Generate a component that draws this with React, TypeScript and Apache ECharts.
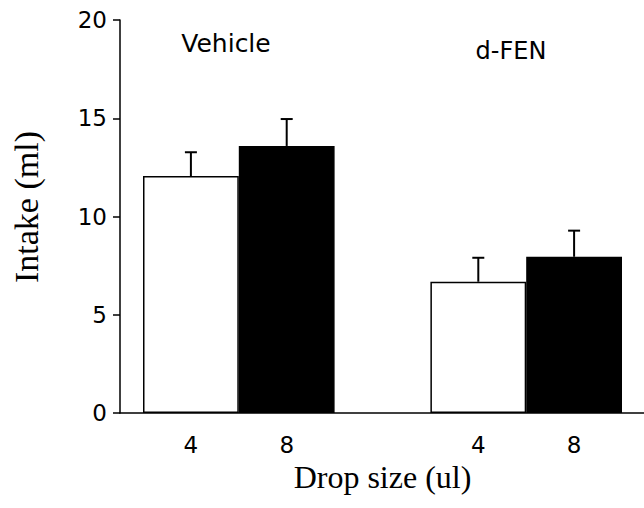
import React, { useEffect, useRef } from "react";
import * as echarts from "echarts";

const groups = ["Vehicle", "d-FEN"];
const dropSizes = ["4", "8"];
const vehicleMeans = [12.06, 13.59];
const vehicleSem = [1.21, 1.37];
const dfenMeans = [6.68, 7.95];
const dfenSem = [1.22, 1.33];
const yTicks = [0, 5, 10, 15, 20];

const SANS = "DejaVu Sans";
const SERIF = "Liberation Serif";

export default function App() {
  const ref = useRef<HTMLDivElement>(null);
  useEffect(() => {
    if (!ref.current) return;
    const chart = echarts.init(ref.current, undefined, { renderer: "svg" });

    // five slots: group 1 (4, 8), empty gap, group 2 (4, 8)
    const categories = [...dropSizes, "", ...dropSizes];
    const fills = ["#ffffff", "#000000"];
    const barData: any[] = [];
    const errData: any[] = [];
    const allMeans = [vehicleMeans, dfenMeans];
    const allSem = [vehicleSem, dfenSem];
    let idx = 0;
    allMeans.forEach((means, g) => {
      means.forEach((m, d) => {
        barData.push({
          value: m,
          itemStyle: { color: fills[d], borderColor: "#000", borderWidth: 1.5 },
        });
        errData.push([idx, m, allSem[g][d]]);
        idx++;
      });
      if (g === 0) {
        barData.push("-");
        idx++;
      }
    });

    chart.setOption({
      animation: false,
      grid: [
        { left: 143, right: 22, top: 20, bottom: 95 },
        { left: 120, right: 0, top: 20, bottom: 95 },
      ],
      xAxis: [
        {
          type: "category",
          gridIndex: 0,
          data: categories,
          axisLine: { show: false },
          axisTick: { show: false },
          axisLabel: {
            color: "#000",
            fontFamily: SANS,
            fontSize: 23,
            margin: 20,
          },
          name: "Drop size (ul)",
          nameLocation: "middle",
          nameGap: 38,
          nameTextStyle: { color: "#000", fontFamily: SERIF, fontSize: 32 },
        },
        {
          type: "value",
          gridIndex: 1,
          min: 0,
          max: 1,
          axisLine: { show: true, lineStyle: { color: "#000", width: 1.5 } },
          axisTick: { show: false },
          axisLabel: { show: false },
          splitLine: { show: false },
        },
      ],
      yAxis: [
        {
          type: "value",
          gridIndex: 0,
          min: 0,
          max: 20,
          interval: 5,
          show: false,
        },
        {
          type: "value",
          gridIndex: 1,
          min: yTicks[0],
          max: yTicks[yTicks.length - 1],
          interval: 5,
          axisLine: { show: true, lineStyle: { color: "#000", width: 1.5 } },
          axisTick: { show: true, length: 7, lineStyle: { color: "#000", width: 1.5 } },
          axisLabel: {
            color: "#000",
            fontFamily: SANS,
            fontSize: 23,
            margin: 13,
          },
          splitLine: { show: false },
        },
      ],
      series: [
        {
          type: "bar",
          name: "Intake",
          xAxisIndex: 0,
          yAxisIndex: 0,
          data: barData,
          barCategoryGap: "0%",
        },
        {
          type: "custom",
          name: "SEM",
          xAxisIndex: 0,
          yAxisIndex: 0,
          data: errData,
          z: 3,
          renderItem: (params: any, api: any) => {
            const x = api.value(0);
            const m = api.value(1);
            const e = api.value(2);
            const base = api.coord([x, m]);
            const top = api.coord([x, m + e]);
            const hw = 6;
            return {
              type: "group",
              children: [
                {
                  type: "line",
                  shape: { x1: base[0], y1: base[1], x2: top[0], y2: top[1] },
                  style: { stroke: "#000", lineWidth: 2 },
                },
                {
                  type: "line",
                  shape: { x1: top[0] - hw, y1: top[1], x2: top[0] + hw, y2: top[1] },
                  style: { stroke: "#000", lineWidth: 2 },
                },
              ],
            };
          },
        },
      ],
      graphic: [
        {
          type: "text",
          x: 226,
          y: 43,
          style: {
            text: groups[0],
            fontFamily: SANS,
            fontSize: 25,
            fill: "#000",
            align: "center",
            verticalAlign: "middle",
          },
        },
        {
          type: "text",
          x: 511,
          y: 51,
          style: {
            text: groups[1],
            fontFamily: SANS,
            fontSize: 24,
            fill: "#000",
            align: "center",
            verticalAlign: "middle",
          },
        },
        {
          type: "text",
          x: 26,
          y: 207,
          rotation: Math.PI / 2,
          style: {
            text: "Intake (ml)",
            fontFamily: SERIF,
            fontSize: 34,
            fill: "#000",
            align: "center",
            verticalAlign: "middle",
          },
        },
      ],
    });
    return () => chart.dispose();
  }, []);
  return <div ref={ref} style={{ width: 644, height: 508, position: "absolute", left: 0, top: 0 }} />;
}
